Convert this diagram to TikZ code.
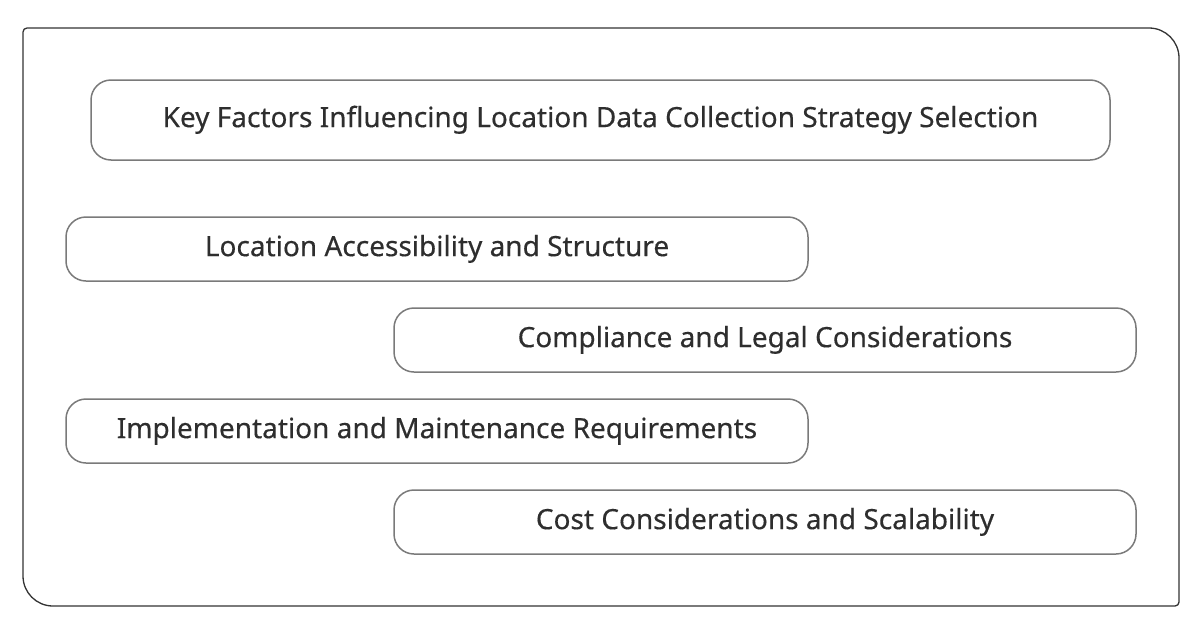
\documentclass[tikz,border=0pt]{standalone}
\usepackage{fontspec}
\setmainfont{Noto Sans}[FakeBold=0.35]
\usepackage{tikz}
\definecolor{framegray}{rgb}{0.2,0.2,0.2}
\definecolor{boxgray}{rgb}{0.48,0.48,0.48}
\definecolor{inkgray}{rgb}{0.18,0.18,0.18}
\tikzset{
  factor/.style={draw=boxgray,line width=0.75pt,rounded corners=10pt,inner sep=0pt,outer sep=0pt,
    minimum height=32pt,text height=0.714em,text depth=0pt,text=inkgray,
    font=\fontsize{14}{17}\selectfont\bfseries},
  headbox/.style={factor,minimum height=40pt,minimum width=509.5pt}
}
\begin{document}
\begin{tikzpicture}[line cap=round,line join=round,x=0.5pt,y=0.5pt]
\useasboundingbox (0,0) rectangle (1202,634);
\draw[color=framegray,line width=0.65pt] (23,56) -- (23,602) arc[start angle=180,end angle=90,radius=4]
  -- (1149,606) arc[start angle=90,end angle=0,radius=30] -- (1179,32)
  arc[start angle=0,end angle=-90,radius=4] -- (53,28) arc[start angle=270,end angle=180,radius=30] -- cycle;
\node[headbox] (title) at (600.5,514) {Key Factors Influencing Location Data Collection Strategy Selection};
\foreach \name/\x/\y/\txt in {access/437/385/Location Accessibility and Structure,
  legal/765/294/Compliance and Legal Considerations,
  upkeep/437/203/Implementation and Maintenance Requirements,
  cost/765/112/Cost Considerations and Scalability}
\node[factor,minimum width=371pt] (\name) at (\x,\y) {\txt};
\end{tikzpicture}
\end{document}
